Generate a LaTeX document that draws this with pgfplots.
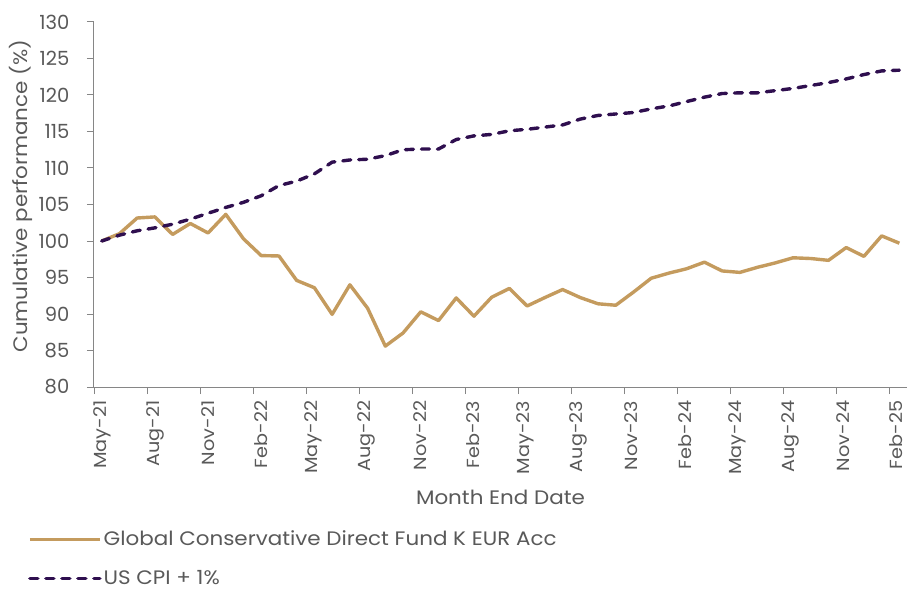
\documentclass[border=0pt]{standalone}
\usepackage{fontspec}
\setmainfont[FakeStretch=1.1]{Poppins}
\newfontfamily\ytf{Poppins}
\usepackage{pgfplots}
\pgfplotsset{compat=1.18}
\definecolor{fund}{HTML}{C49B5E}
\definecolor{cpi}{HTML}{2F0F4F}
\definecolor{txt}{HTML}{595959}
\definecolor{axl}{HTML}{868686}
\pgfplotstableread{
k v
0 100.0
1 101.0
2 103.15
3 103.3
4 100.9
5 102.4
6 101.1
7 103.65
8 100.3
9 98.0
10 97.95
11 94.6
12 93.6
13 89.95
14 94.0
15 90.8
16 85.6
17 87.4
18 90.3
19 89.1
20 92.2
21 89.7
22 92.3
23 93.5
24 91.1
25 92.25
26 93.35
27 92.25
28 91.4
29 91.2
30 93.0
31 94.9
32 95.6
33 96.2
34 97.1
35 95.9
36 95.7
37 96.4
38 97.0
39 97.7
40 97.6
41 97.35
42 99.1
43 97.9
44 100.7
45 99.7
}\fund
\pgfplotstableread{
k v
0 100.0
1 100.8
2 101.4
3 101.8
4 102.3
5 103.0
6 103.8
7 104.6
8 105.3
9 106.2
10 107.6
11 108.2
12 109.2
13 110.8
14 111.1
15 111.2
16 111.7
17 112.5
18 112.6
19 112.6
20 113.9
21 114.4
22 114.6
23 115.1
24 115.3
25 115.6
26 115.9
27 116.7
28 117.2
29 117.4
30 117.6
31 118.1
32 118.5
33 119.1
34 119.7
35 120.2
36 120.3
37 120.3
38 120.6
39 120.9
40 121.3
41 121.7
42 122.2
43 122.8
44 123.3
45 123.4
}\cpi
\begin{document}
\fontsize{19.5}{22}\selectfont
\begin{tikzpicture}
\begin{axis}[
  scale only axis, width=813pt, height=365pt,
  at={(0,0)}, anchor=south west,
  xmin=-0.434, xmax=45.43, ymin=80, ymax=130,
  ytick={80,85,...,130},
  xtick={-0.38,2.61,5.60,8.58,11.57,14.56,17.55,20.54,23.52,26.51,29.50,32.49,35.48,38.46,41.45,44.44},
  xticklabels={May-21,Aug-21,Nov-21,Feb-22,May-22,Aug-22,Nov-22,Feb-23,May-23,Aug-23,Nov-23,Feb-24,May-24,Aug-24,Nov-24,Feb-25},
  x tick label style={rotate=90, anchor=east, yshift=-7pt, txt, font=\fontsize{17.5}{20}\selectfont},
  y tick label style={xshift=-11pt, txt, font=\ytf\fontsize{19.5}{22}\selectfont},
  tick align=outside, major tick length=7pt,
  axis x line*=bottom, axis y line*=left,
  axis line style={axl, line width=1pt},
  tick style={axl, line width=1pt},
  label style={txt, font=\fontsize{19.5}{22}\selectfont},
  xlabel={Month End Date}, ylabel={Cumulative performance (\%)},
  xlabel style={at={(axis description cs:0.5,-0.303)}, anchor=center},
  ylabel style={at={(axis description cs:-0.0898,0.523)}, anchor=center},
  /pgf/number format/assume math mode=true,
  legend style={at={(axis description cs:-0.0812,-0.387)}, anchor=north west, draw=none, fill=none,
    inner sep=0pt, row sep=18pt, font=\fontsize{19.5}{22}\selectfont, text=txt,
    nodes={inner sep=2pt}, /tikz/every even column/.append style={column sep=3pt}},
  legend cell align=left,
  legend image code/.code={\draw[#1] (0pt,0pt) -- (70pt,0pt);},
]
\addplot[fund, line width=3.4pt, line join=round] table[x=k,y=v] {\fund};
\addlegendentry{Global Conservative Direct Fund K EUR Acc}
\addplot[cpi, line width=3.4pt, dash pattern=on 8pt off 8pt, line cap=round, line join=round] table[x=k,y=v] {\cpi};
\addlegendentry{US CPI + 1\%}
\end{axis}
\pgfresetboundingbox
\path[use as bounding box] (-94pt,-204pt) rectangle (826pt,387pt);
\end{tikzpicture}
\end{document}
